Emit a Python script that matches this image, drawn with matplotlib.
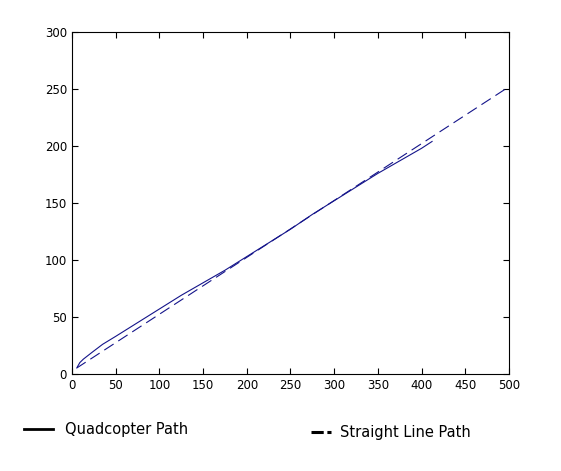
import matplotlib.pyplot as plt
from matplotlib.lines import Line2D

# trayectoria del quadcopter
quad_x = [6, 9, 13, 18, 23, 35, 50, 75, 100, 125, 150, 175, 200, 225, 250, 275, 300, 325, 350, 375, 400, 412]
quad_y = [6, 10, 13, 16, 19, 26, 33, 45, 57, 69, 80, 91, 103, 115, 127, 140, 152, 164, 176, 187, 198, 204]

# trayectoria en linea recta
line_x = [5, 500]
line_y = [5, 252]

xticks = [0, 50, 100, 150, 200, 250, 300, 350, 400, 450, 500]
yticks = [0, 50, 100, 150, 200, 250, 300]

fig = plt.figure(figsize=(5.61, 4.71), dpi=100)
ax = fig.add_axes([0.1283, 0.206, 0.779, 0.726])

ax.plot(quad_x, quad_y, color='#14148a', linewidth=0.8, linestyle='-')
ax.plot(line_x, line_y, color='#14148a', linewidth=0.8, linestyle=(0, (10, 5)))

ax.set_xlim(0, 500)
ax.set_ylim(0, 300)
ax.set_xticks(xticks)
ax.set_yticks(yticks)
ax.tick_params(direction='in', top=True, right=True, labelsize=8.5, length=4)
for s in ax.spines.values():
    s.set_linewidth(0.8)

# leyendas separadas debajo de la grafica
h1 = Line2D([], [], color='black', linewidth=2, linestyle='-')
h2 = Line2D([], [], color='black', linewidth=2.2, linestyle=(0, (4, 1.2)))
leg1 = fig.legend([h1], ['Quadcopter Path'], loc='center left',
                  bbox_to_anchor=(0.043, 0.088), frameon=False, fontsize=10.5,
                  handlelength=1.97, handletextpad=0.85, borderpad=0, borderaxespad=0)
leg2 = fig.legend([h2], ['Straight Line Path'], loc='center left',
                  bbox_to_anchor=(0.554, 0.082), frameon=False, fontsize=10.5,
                  handlelength=1.4, handletextpad=0.6, borderpad=0, borderaxespad=0)

plt.savefig('out.png', dpi=100)
